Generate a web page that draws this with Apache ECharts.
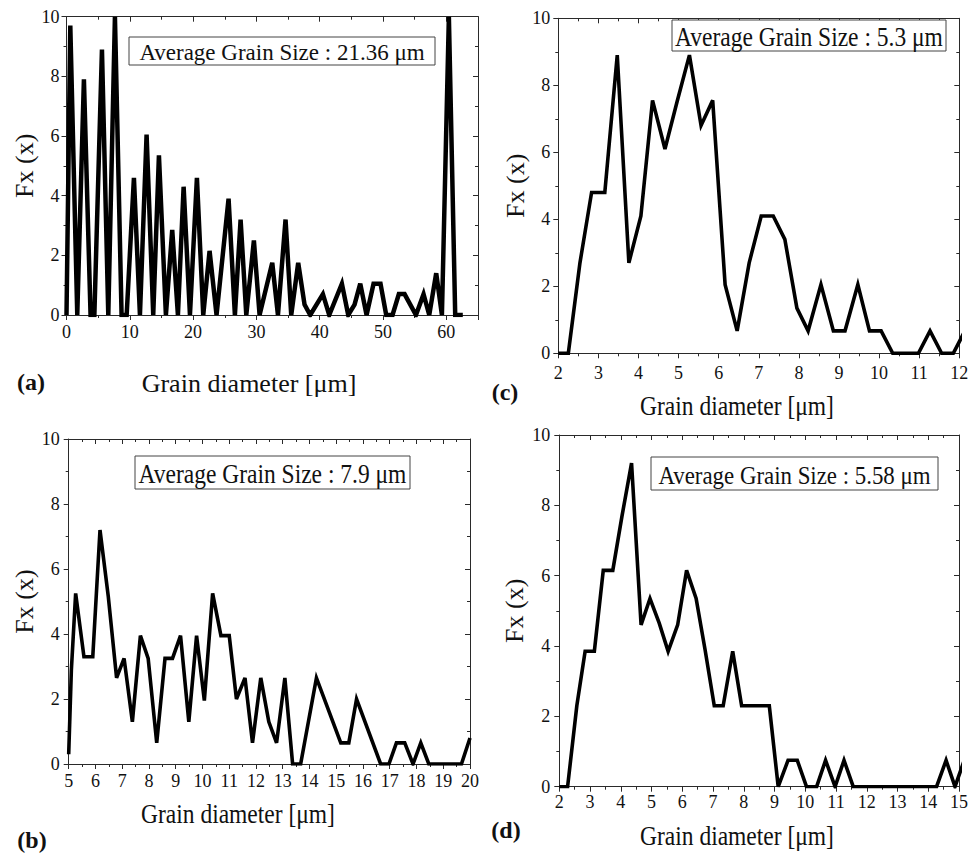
<!DOCTYPE html>
<html>
<head>
<meta charset="utf-8">
<script src="https://cdn.jsdelivr.net/npm/echarts@6/dist/echarts.min.js"></script>
<style>
  html, body { margin: 0; padding: 0; background: #ffffff; }
  #chart { width: 973px; height: 859px; }
</style>
</head>
<body>
<div id="chart"></div>
<script>
// ---- (a) grain size distribution, average 21.36 µm ----
const diamA = [0, 0.6, 1.7, 2.75, 3.8, 4.4, 5.6, 6.6, 7.65, 8.7, 9.5, 10.65, 11.6, 12.65, 13.7, 14.6,
  15.7, 16.7, 17.6, 18.5, 19.5, 20.6, 21.6, 22.6, 23.7, 25.6, 26.6, 27.5, 28.4, 29.6, 30.5, 32.5,
  33.4, 34.6, 35.5, 36.6, 37.6, 38.5, 40.5, 41.5, 43.5, 44.5, 45.5, 46.4, 47.4, 48.5, 49.6, 50.5,
  51.5, 52.5, 53.4, 55.2, 56.4, 57.3, 58.4, 59.3, 60.4, 61.4, 62.6];
const fxA = [0, 9.7, 0, 7.9, 0, 0, 8.9, 0, 10, 0, 0, 4.6, 0, 6.05, 0, 5.35,
  0, 2.85, 0, 4.3, 0, 4.6, 0, 2.15, 0, 3.9, 0, 3.2, 0, 2.5, 0, 1.75,
  0, 3.2, 0, 1.75, 0.35, 0, 0.7, 0, 1.05, 0, 0.35, 1.05, 0, 1.05, 1.05, 0,
  0, 0.7, 0.7, 0, 0.7, 0, 1.4, 0, 10, 0, 0];

// ---- (b) average 7.9 µm ----
const diamB = [5.0, 5.1, 5.26, 5.57, 5.9, 6.17, 6.48, 6.79, 7.07, 7.38, 7.68, 7.97, 8.29, 8.6, 8.88,
  9.18, 9.49, 9.78, 10.07, 10.38, 10.69, 11.0, 11.27, 11.59, 11.87, 12.18, 12.48, 12.77, 13.08,
  13.37, 13.67, 14.26, 15.17, 15.47, 15.76, 16.66, 16.97, 17.25, 17.56, 17.87, 18.16, 18.46, 19.68, 20.0];
const fxB = [0.3, 2.9, 5.25, 3.3, 3.3, 7.2, 5.15, 2.65, 3.25, 1.3, 3.95, 3.25, 0.65, 3.25, 3.25,
  3.95, 1.3, 3.95, 1.95, 5.25, 3.95, 3.95, 2.0, 2.65, 0.65, 2.65, 1.3, 0.65, 2.65,
  0, 0, 2.65, 0.65, 0.65, 2.0, 0, 0, 0.65, 0.65, 0, 0.65, 0, 0, 0.8];

// ---- (c) average 5.3 µm ----
const diamC = [2.0, 2.25, 2.54, 2.83, 3.16, 3.47, 3.76, 4.06, 4.35, 4.66, 4.96, 5.27, 5.56, 5.85,
  6.16, 6.46, 6.76, 7.06, 7.36, 7.65, 7.95, 8.23, 8.55, 8.86, 9.15, 9.47, 9.76, 10.05, 10.34,
  10.64, 10.98, 11.27, 11.56, 11.85, 12.14];
const fxC = [0, 0, 2.7, 4.8, 4.8, 8.9, 2.7, 4.1, 7.55, 6.1, 7.5, 8.9, 6.8, 7.55,
  2.05, 0.67, 2.7, 4.1, 4.1, 3.4, 1.35, 0.67, 2.05, 0.67, 0.67, 2.05, 0.67, 0.67, 0,
  0, 0, 0.67, 0, 0, 0.67];

// ---- (d) average 5.58 µm ----
const diamD = [2.0, 2.27, 2.57, 2.84, 3.14, 3.43, 3.74, 4.04, 4.35, 4.66, 4.95, 5.25, 5.54, 5.85,
  6.14, 6.45, 6.74, 7.04, 7.33, 7.64, 7.93, 8.23, 8.52, 8.83, 9.12, 9.44, 9.74, 10.04, 10.37,
  10.66, 10.97, 11.26, 11.56, 14.27, 14.58, 14.87, 15.17];
const fxD = [0, 0, 2.3, 3.85, 3.85, 6.15, 6.15, 7.7, 9.2, 4.6, 5.35, 4.65, 3.85, 4.6,
  6.15, 5.35, 3.9, 2.3, 2.3, 3.85, 2.3, 2.3, 2.3, 2.3, 0, 0.75, 0.75, 0, 0,
  0.75, 0, 0.75, 0, 0, 0.75, 0, 0.75];

// Axis ranges: [min, max, interval]
const xRangeA = [0, 65, 10];
const xRangeB = [5, 20, 1];
const xRangeC = [2, 12, 1];
const xRangeD = [2, 15, 1];
const yRange = [0, 10, 2];

// Texts
const yTitle = 'Fx (x)';
const xTitle = 'Grain diameter [μm]';
const avgLabels = ['Average Grain Size : 21.36 μm', 'Average Grain Size : 7.9 μm',
                   'Average Grain Size : 5.3 μm', 'Average Grain Size : 5.58 μm'];
const panelTags = ['(a)', '(b)', '(c)', '(d)'];

const FONT = "'Liberation Serif', 'Times New Roman', serif";
const INK = '#111111';
const AXIS = '#2a2a2a';

// Panel layout (pixels)
const panels = [
  { x: diamA, y: fxA, xr: xRangeA, grid: { left: 66.5, top: 16.7, width: 411.5, height: 298.3 },
    lw: 4.5, xMargin: 8, yMargin: 7, yGap: 26, hideMaxX: true,
    xTitle: { x: 249, y: 383, scale: 1, size: 26 }, tag: { x: 31, y: 382 },
    box: { x: 129, y: 37, w: 306, h: 28, size: 23, scale: 1 } },
  { x: diamB, y: fxB, xr: xRangeB, grid: { left: 68.7, top: 439, width: 401.3, height: 325 },
    lw: 3.6, xMargin: 8, yMargin: 9, yGap: 30, hideMaxX: false,
    xTitle: { x: 238, y: 813, scale: 0.87, size: 27 }, tag: { x: 32, y: 840 },
    box: { x: 135, y: 456, w: 275, h: 33, size: 27, scale: 0.87 } },
  { x: diamC, y: fxC, xr: xRangeC, grid: { left: 558.3, top: 18.3, width: 401, height: 335 },
    lw: 3.6, xMargin: 11, yMargin: 8, yGap: 29, hideMaxX: false,
    xTitle: { x: 737, y: 405, scale: 0.87, size: 27 }, tag: { x: 505, y: 392 },
    box: { x: 672, y: 20, w: 274, h: 31, size: 27, scale: 0.87 } },
  { x: diamD, y: fxD, xr: xRangeD, grid: { left: 559.3, top: 435, width: 399.7, height: 351.7 },
    lw: 3.6, xMargin: 6, yMargin: 9, yGap: 32, hideMaxX: false,
    xTitle: { x: 737, y: 835, scale: 0.87, size: 27 }, tag: { x: 506, y: 830 },
    box: { x: 651, y: 457, w: 287, h: 33, size: 26, scale: 0.88 } }
];

const lineStyle = { color: AXIS, width: 1 };
const labelStyle = (margin, extra) => Object.assign({
  fontFamily: FONT, fontSize: 18, color: INK, margin: margin
}, extra || {});

const grids = [], xAxes = [], yAxes = [], series = [], graphics = [];

panels.forEach((p, i) => {
  grids.push(Object.assign({ outerBoundsMode: 'none', containLabel: false }, p.grid));

  const xBase = {
    gridIndex: i, type: 'value', min: p.xr[0], max: p.xr[1], interval: p.xr[2],
    splitLine: { show: false }, minorSplitLine: { show: false },
    axisLine: { show: true, onZero: false, lineStyle: lineStyle }
  };
  // bottom axis with labels, outward ticks
  xAxes.push(Object.assign({}, xBase, {
    position: 'bottom',
    axisTick: { show: true, inside: false, length: 5, lineStyle: lineStyle },
    minorTick: { show: true, splitNumber: 2, length: 3, lineStyle: lineStyle },
    axisLabel: labelStyle(p.xMargin, { showMaxLabel: !p.hideMaxX, showMinLabel: true })
  }));
  // mirrored top axis, inward ticks
  xAxes.push(Object.assign({}, xBase, {
    position: 'top',
    axisTick: { show: true, inside: true, length: 5, lineStyle: lineStyle },
    minorTick: { show: true, splitNumber: 2, length: 3, lineStyle: lineStyle },
    axisLabel: { show: false }
  }));

  const yBase = {
    gridIndex: i, type: 'value', min: yRange[0], max: yRange[1], interval: yRange[2],
    splitLine: { show: false }, minorSplitLine: { show: false },
    axisLine: { show: true, onZero: false, lineStyle: lineStyle }
  };
  yAxes.push(Object.assign({}, yBase, {
    position: 'left',
    name: yTitle, nameLocation: 'middle', nameGap: p.yGap,
    nameTextStyle: { fontFamily: FONT, fontSize: 26, color: INK },
    axisTick: { show: true, inside: false, length: 5, lineStyle: lineStyle },
    minorTick: { show: true, splitNumber: 2, length: 3, lineStyle: lineStyle },
    axisLabel: labelStyle(p.yMargin, { showMaxLabel: true, showMinLabel: true })
  }));
  yAxes.push(Object.assign({}, yBase, {
    position: 'right',
    axisTick: { show: true, inside: true, length: 5, lineStyle: lineStyle },
    minorTick: { show: true, splitNumber: 2, length: 3, lineStyle: lineStyle },
    axisLabel: { show: false }
  }));

  series.push({
    type: 'line',
    xAxisIndex: i * 2, yAxisIndex: i * 2,
    data: p.x.map((d, k) => [d, p.y[k]]),
    showSymbol: false, symbol: 'none', clip: true,
    lineStyle: { color: '#000000', width: p.lw, join: 'miter', miterLimit: 4, cap: 'butt' },
    silent: true
  });

  // x-axis title
  graphics.push({
    type: 'text', x: p.xTitle.x, y: p.xTitle.y, scaleX: p.xTitle.scale, silent: true,
    style: { text: xTitle, fill: INK, fontFamily: FONT, fontSize: p.xTitle.size,
             align: 'center', verticalAlign: 'middle' }
  });
  // panel tag
  graphics.push({
    type: 'text', x: p.tag.x, y: p.tag.y, silent: true,
    style: { text: panelTags[i], fill: INK, fontFamily: FONT, fontSize: 24, fontWeight: 'bold',
             align: 'center', verticalAlign: 'middle' }
  });
  // average grain size annotation
  graphics.push({
    type: 'rect', silent: true, z: 10,
    shape: { x: p.box.x, y: p.box.y, width: p.box.w, height: p.box.h },
    style: { fill: '#ffffff', stroke: '#444444', lineWidth: 1 }
  });
  graphics.push({
    type: 'text', silent: true, z: 11,
    x: p.box.x + p.box.w / 2, y: p.box.y + p.box.h / 2 + 1, scaleX: p.box.scale,
    style: { text: avgLabels[i], fill: INK, fontFamily: FONT, fontSize: p.box.size,
             align: 'center', verticalAlign: 'middle' }
  });
});

const chart = echarts.init(document.getElementById('chart'), null, { renderer: 'svg' });
chart.setOption({
  animation: false,
  backgroundColor: '#ffffff',
  textStyle: { fontFamily: FONT },
  grid: grids,
  xAxis: xAxes,
  yAxis: yAxes,
  series: series,
  graphic: graphics
});
</script>
</body>
</html>
